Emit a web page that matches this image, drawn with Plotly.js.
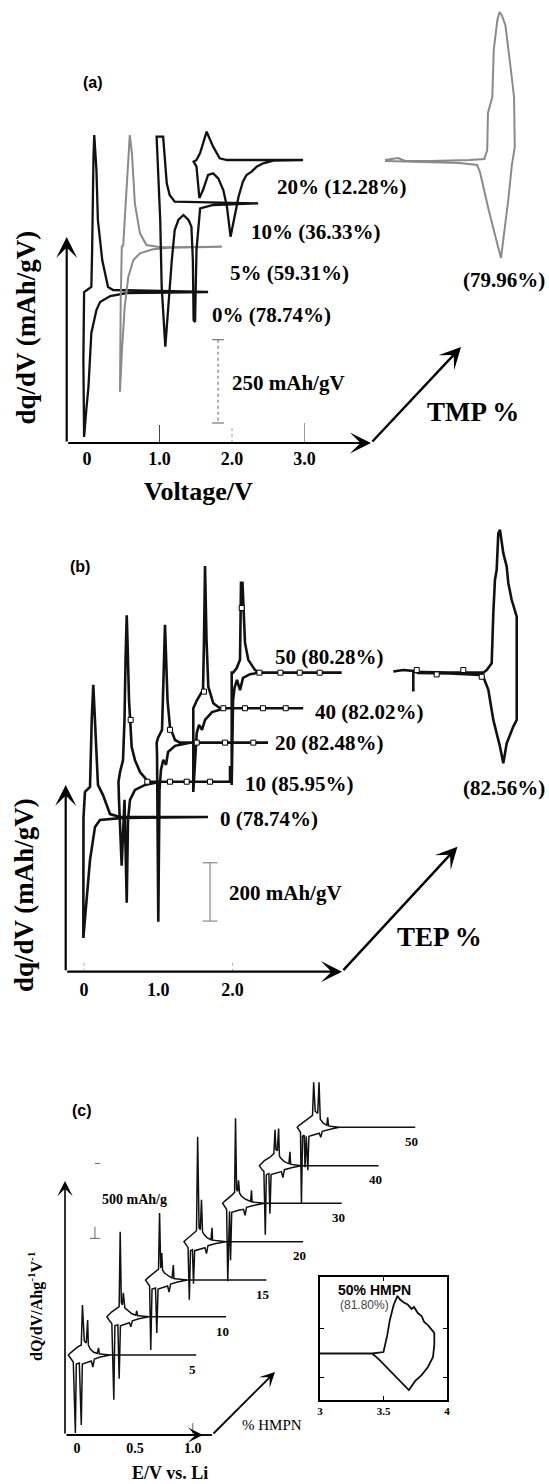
<!DOCTYPE html>
<html><head><meta charset="utf-8">
<script src="https://cdn.plot.ly/plotly-3.0.1.min.js"></script>
<style>html,body{margin:0;padding:0;background:#fff}#chart{width:549px;height:1484px}</style>
</head><body><div id="chart"></div>
<script>
// ================= Panel (a): TMP % (dq/dV in mAh/gV vs Voltage/V) =================
const a_names   = ['0% (78.74%)', '5% (59.31%)', '10% (36.33%)', '20% (12.28%)', '(79.96%)'];
const a_offsets = [0, 136, 266, 396, 396];               // stacking offsets (mAh/gV)
const a0_V  = [1.67,0.36,0.29,0.21,0.15,0.13,0.10,0.09,0.07,0.06,0.00,-0.04,-0.05,-0.04,-0.01,0.02,0.06,0.13,0.18,0.32,0.55,1.67];
const a0_Q  = [0,6,15,96,216,366,471,411,117,15,6,0,-204,-435,-354,-285,-123,-54,-30,-12,-3,0];
const a5_V  = [1.86,1.01,0.82,0.73,0.66,0.62,0.59,0.57,0.52,0.50,0.48,0.465,0.455,0.48,0.52,0.57,0.64,0.73,0.91,1.14,1.86];
const a5_Q  = [0,-2,5,40,130,280,335,250,80,5,0,-160,-435,-319,-180,-90,-40,-20,-8,-3,0];
const a10_V = [2.36,1.21,1.14,1.10,1.05,0.96,1.01,1.03,1.08,1.12,1.17,1.21,1.26,1.33,1.40,1.44,1.46,1.47,1.49,1.51,1.56,1.74,2.36];
const a10_Q = [0,5,25,60,200,200,-50,-250,-430,-310,-170,-80,-50,-35,-50,-70,-170,-350,-356,-140,-15,-5,0];
const a20_V = [2.98,1.93,1.83,1.74,1.65,1.56,1.51,1.47,1.51,1.55,1.60,1.67,1.74,1.81,1.88,1.93,1.98,2.03,2.09,2.15,2.20,2.27,2.34,2.43,2.57,2.98];
const a20_Q = [0,0,5,40,85,21,0,-5,-20,-114,-90,-45,-40,-55,-90,-140,-230,-180,-110,-65,-45,-35,-20,-10,-2,0];
const aR_V  = [4.11,4.29,4.39,4.73,5.28,5.48,5.52,5.53,5.59,5.61,5.66,5.69,5.72,5.77,5.83,5.89,5.90,5.86,5.81,5.74,5.71,5.67,5.54,5.42,5.38,5.14,4.73,4.11];
const aR_Q  = [0,6,-3,-3,0,3,30,141,189,330,420,444,435,405,300,189,39,-15,-120,-255,-294,-261,-150,-36,-15,-9,-6,-3];
const a_ticks = [0, 1, 2, 3];
const a_tickText = ['0', '1.0', '2.0', '3.0'];
const a_scaleBar = 250;   // mAh/gV

// ================= Panel (b): TEP % =================
const b_names   = ['0 (78.74%)', '10 (85.95%)', '20 (82.48%)', '40 (82.02%)', '50 (80.28%)', '(82.56%)'];
const b_offsets = [0, 121, 255, 373, 495, 501];
const b0_V  = [1.669,0.485,0.350,0.256,0.188,0.171,0.148,0.125,0.104,0.087,0.081,0.013,-0.007,-0.009,0.013,0.036,0.081,0.148,0.215,0.525,1.669];
const b0_Q  = [0,0,10,75,110,196,333,453,333,196,103,86,-3,-415,-353,-261,-147,-34,-10,-3,0];
const b10_V = [1.965,1.965,0.888,0.844,0.754,0.686,0.642,0.606,0.585,0.575,0.559,0.545,0.525,0.485,0.464,0.471,0.507,0.525,0.545,0.575,0.592,0.619,0.686,0.821,1.023,1.965];
const b10_Q = [54,0,0,6,33,74,119,280,486,571,417,212,74,33,0,-62,-288,-165,-62,-415,-132,-62,-28,-11,0,0];
const b20_V = [2.476,1.292,1.225,1.157,1.124,1.104,1.090,1.077,1.063,1.050,0.996,0.978,0.983,1.000,1.016,1.036,1.067,1.104,1.131,1.225,1.427,2.476];
const b20_Q = [0,0,9,54,146,284,404,284,112,44,16,0,-42,-614,-162,-93,-59,-76,-32,-11,0,0];
const b40_V = [2.950,1.830,1.740,1.673,1.649,1.629,1.615,1.602,1.521,1.480,1.471,1.471,1.494,1.517,1.548,1.588,1.629,1.723,1.898,2.950];
const b40_Q = [0,0,17,74,234,488,234,63,28,5,0,-287,-177,-85,-57,-74,-40,-13,0,0];
const b50_V = [3.468,2.369,2.301,2.211,2.167,2.147,2.133,2.113,2.107,2.100,2.056,2.006,1.988,1.988,2.006,2.026,2.059,2.100,2.140,2.234,2.369,3.468];
const b50_Q = [0,0,9,44,102,215,308,308,181,44,16,0,0,-385,-94,-52,-25,-60,-18,-5,0,0];
const bR_V  = [4.163,4.297,4.432,4.432,4.432,4.926,5.374,5.420,5.487,5.509,5.531,5.554,5.576,5.599,5.643,5.689,5.711,5.756,5.824,5.824,5.824,5.778,5.689,5.643,5.599,5.509,5.442,5.374,5.330,4.926,4.478];
const bR_Q  = [-2,3,0,-71,-3,-6,-6,3,26,198,312,346,472,484,404,358,301,244,186,-31,-168,-191,-248,-317,-260,-168,-65,-20,-14,-9,-7];
// open-square data markers (V, Q relative to own baseline)
const b10_mV = [0.628,0.852,1.157,1.382,1.696], b10_mQ = [212,0,0,0,0];
const b20_mV = [1.157,1.517,1.898,2.279],       b20_mQ = [44,0,0,0];
const b40_mV = [1.615,1.875,2.167,2.409,2.715], b40_mQ = [57,0,0,0,0];
const b50_mV = [2.122,2.361,2.643,2.903,3.172], b50_mQ = [222,0,0,0,0];
const bR_mV  = [4.478,4.747,5.105,5.353],       bR_mQ  = [3,-12,3,-20];
const b_ticks = [0, 1, 2];
const b_tickText = ['0', '1.0', '2.0'];
const b_scaleBar = 200;   // mAh/gV

// ================= Panel (c): % HMPN =================
const c_names  = ['5', '10', '15', '20', '30', '40', '50'];
const c_shiftV = [0, 0.333, 0.667, 0.999, 1.332, 1.650, 1.977];
const c_shiftQ = [0, 255, 500, 756, 1012, 1263, 1519];
const c5_V  = [1.030,0.288,0.201,0.193,0.186,0.175,0.141,0.115,0.098,0.092,0.080,0.063,0.047,0.037,0.003,-0.032,-0.058,-0.075,-0.058,-0.032,-0.014,-0.006,0.020,0.037,0.046,0.089,0.124,0.137,0.150,0.201,0.288,1.030];
const c5_Q  = [0,0,7,7,47,10,20,40,67,233,80,93,333,67,53,33,13,0,-20,-47,-520,-60,-53,-467,-60,-47,-40,-80,-27,-13,0,0];
const c10_V = [0.954,0.288,0.201,0.191,0.182,0.175,0.141,0.106,0.080,0.067,0.059,0.050,0.040,0.031,0.003,-0.032,-0.058,-0.075,-0.058,-0.032,-0.015,-0.006,0.020,0.031,0.042,0.089,0.119,0.132,0.145,0.201,0.288,0.954];
const c10_Q = [0,0,7,7,40,10,20,40,60,160,80,93,567,67,53,33,13,0,-20,-47,-553,-60,-53,-413,-60,-47,-40,-67,-27,-13,0,0];
const c15_V = [0.969,0.288,0.201,0.193,0.170,0.165,0.154,0.124,0.089,0.072,0.065,0.056,0.046,0.037,0.003,-0.032,-0.058,-0.075,-0.058,-0.040,-0.030,-0.019,0.011,0.022,0.033,0.080,0.115,0.128,0.141,0.201,0.288,0.969];
const c15_Q = [0,0,7,7,10,100,13,27,47,67,180,80,447,73,53,33,13,0,-20,-40,-467,-60,-53,-353,-60,-47,-40,-80,-27,-13,0,0];
const c20_V = [0.954,0.288,0.201,0.193,0.172,0.167,0.158,0.124,0.098,0.085,0.076,0.066,0.055,0.043,0.033,0.003,-0.032,-0.058,-0.075,-0.058,-0.040,-0.029,-0.019,-0.002,0.007,0.017,0.072,0.106,0.119,0.132,0.201,0.288,0.954];
const c20_Q = [0,0,7,7,10,93,13,27,47,67,280,80,93,700,73,53,33,13,0,-20,-40,-387,-60,-53,-280,-60,-47,-40,-80,-27,-13,0,0];
const c30_V = [0.954,0.288,0.201,0.193,0.180,0.175,0.167,0.124,0.089,0.072,0.063,0.055,0.046,0.037,0.029,0.003,-0.032,-0.058,-0.075,-0.058,-0.040,-0.030,-0.021,-0.015,-0.006,0.004,0.063,0.106,0.119,0.132,0.201,0.288,0.954];
const c30_Q = [0,0,7,7,10,87,13,27,47,67,153,80,93,567,73,53,33,13,0,-20,-40,-520,-60,-53,-380,-60,-47,-40,-80,-27,-13,0,0];
const c40_V = [0.954,0.288,0.210,0.195,0.189,0.180,0.141,0.106,0.098,0.091,0.080,0.068,0.060,0.050,0.011,-0.032,-0.058,-0.075,-0.058,-0.036,-0.024,-0.015,0.007,0.016,0.026,0.080,0.115,0.128,0.141,0.210,0.288,0.954];
const c40_Q = [0,0,7,10,93,13,27,53,67,247,100,107,240,80,53,33,13,0,-20,-40,-460,-60,-53,-320,-60,-47,-40,-80,-27,-13,0,0];
const c50_V = [0.944,0.288,0.210,0.195,0.188,0.180,0.150,0.124,0.113,0.102,0.080,0.067,0.057,0.011,-0.032,-0.058,-0.075,-0.058,-0.047,-0.039,-0.029,-0.015,-0.008,0.003,0.016,0.026,0.080,0.115,0.128,0.141,0.210,0.288,0.944];
const c50_Q = [0,0,7,10,67,13,27,53,300,93,107,300,80,53,33,13,0,-20,-33,-507,-60,-53,-267,-60,-287,-60,-47,-40,-67,-27,-13,0,0];
const c_ticks = [0, 0.5, 1];
const c_tickText = ['0', '0.5', '1.0'];
const c_scaleBar = 500;   // mAh/g

// inset: 50% HMPN (81.80%)
const ins_V = [3.0,3.41,3.50,3.53,3.55,3.58,3.61,3.63,3.66,3.69,3.72,3.74,3.77,3.80,3.82,3.85,3.90,3.90,3.89,3.85,3.80,3.75,3.70,3.67,3.63,3.57,3.51,3.46,3.41];
const ins_Q = [0,0,0.06,0.76,1.37,1.98,2.35,2.20,2.08,2.00,1.82,1.90,1.65,1.53,1.29,1.16,0.84,0.35,-0.14,-0.55,-0.88,-1.12,-1.49,-1.33,-1.12,-0.80,-0.51,-0.22,0];
const ins_ticks = [3, 3.5, 4];
const ins_tickText = ['3', '3.5', '4'];

// ================= build =================
const SERIF = 'Liberation Serif, Times New Roman, serif';
const SANS  = 'Liberation Sans, Arial, sans-serif';
const traces = [];
const add = (q, d) => q.map(v => v + d);
function ln(x, y, xa, ya, color, width, dash) {
  traces.push({type:'scatter', mode:'lines', x:x, y:y, xaxis:xa, yaxis:ya,
    line:{color:color, width:width, dash:dash || 'solid'}, hoverinfo:'skip', showlegend:false});
}
function mk(x, y, xa, ya) {
  traces.push({type:'scatter', mode:'markers', x:x, y:y, xaxis:xa, yaxis:ya,
    marker:{symbol:'square', size:5, color:'#fff', line:{color:'#000', width:1}}, hoverinfo:'skip', showlegend:false});
}

// panel a curves
ln(a0_V,  add(a0_Q,  a_offsets[0]), 'x','y', '#111', 2.3);
ln(a5_V,  add(a5_Q,  a_offsets[1]), 'x','y', '#8a8a8a', 2.0);
ln(a10_V, add(a10_Q, a_offsets[2]), 'x','y', '#111', 2.3);
ln(a20_V, add(a20_Q, a_offsets[3]), 'x','y', '#111', 2.3);
ln(aR_V,  add(aR_Q,  a_offsets[4]), 'x','y', '#8a8a8a', 2.0);
// a ticks and scale bar
ln([1,1], [-453,-399], 'x','y', '#444', 1);
ln([2,2], [-453,-399], 'x','y', '#999', 1, 'dot');
ln([3,3], [-453,-393], 'x','y', '#999', 1);
ln([1.807,1.807], [-143,-143-a_scaleBar], 'x','y', '#777', 1.2, 'dot');
ln([1.724,1.890], [-143,-143], 'x','y', '#777', 1.2);
ln([1.724,1.890], [-143-a_scaleBar,-143-a_scaleBar], 'x','y', '#777', 1.2);

// panel b curves
ln(b0_V,  add(b0_Q,  b_offsets[0]), 'x2','y2', '#111', 2.6);
ln(b10_V, add(b10_Q, b_offsets[1]), 'x2','y2', '#111', 2.6);
ln(b20_V, add(b20_Q, b_offsets[2]), 'x2','y2', '#111', 2.6);
ln(b40_V, add(b40_Q, b_offsets[3]), 'x2','y2', '#111', 2.6);
ln(b50_V, add(b50_Q, b_offsets[4]), 'x2','y2', '#111', 2.6);
ln(bR_V,  add(bR_Q,  b_offsets[5]), 'x2','y2', '#111', 2.6);
mk(b10_mV, add(b10_mQ, b_offsets[1]), 'x2','y2');
mk(b20_mV, add(b20_mQ, b_offsets[2]), 'x2','y2');
mk(b40_mV, add(b40_mQ, b_offsets[3]), 'x2','y2');
mk(b50_mV, add(b50_mQ, b_offsets[4]), 'x2','y2');
mk(bR_mV,  add(bR_mQ,  b_offsets[5]), 'x2','y2');
ln([0,0], [-531,-490], 'x2','y2', '#aaa', 1, 'dot');
ln([2,2], [-531,-490], 'x2','y2', '#aaa', 1, 'dot');
ln([1.696,1.696], [-157,-157-b_scaleBar], 'x2','y2', '#888', 1.2);
ln([1.596,1.796], [-157,-157], 'x2','y2', '#888', 1.2);
ln([1.596,1.796], [-157-b_scaleBar,-157-b_scaleBar], 'x2','y2', '#888', 1.2);

// panel c curves
const cV = [c5_V, c10_V, c15_V, c20_V, c30_V, c40_V, c50_V];
const cQ = [c5_Q, c10_Q, c15_Q, c20_Q, c30_Q, c40_Q, c50_Q];
for (let i = 0; i < cV.length; i++) {
  ln(add(cV[i], c_shiftV[i]), add(cQ[i], c_shiftQ[i]), 'x3','y3', '#111', 1.5);
}
ln([1.0,1.0], [-527,-454], 'x3','y3', '#666', 1);
ln([1.06,1.1658], [-533.6,-533.6], 'x3','y3', '#111', 2);
ln([0.155,0.199], [778+c_scaleBar,778+c_scaleBar], 'x3','y3', '#666', 1);
ln([0.112,0.199], [778,778], 'x3','y3', '#666', 1);
ln([0.155,0.155], [778,855], 'x3','y3', '#666', 1);

// inset
ln(ins_V, ins_Q, 'x4','y4', '#111', 1.8);

// ---------------- annotations ----------------
const ann = [];
function tx(x, y, xr, yr, text, size, o) {
  ann.push(Object.assign({x:x, y:y, xref:xr, yref:yr, text:text, showarrow:false,
    font:{family:SERIF, size:size, color:'#000'}, xanchor:'left', yanchor:'middle'}, o || {}));
}
function arrow(x0, y0, x1, y1, xr, yr, w, s) {
  ann.push({x:x1, y:y1, ax:x0, ay:y0, xref:xr, yref:yr, axref:xr, ayref:yr, text:'',
    showarrow:true, arrowhead:3, arrowsize:s, arrowwidth:w, arrowcolor:'#000', standoff:0, startstandoff:0});
}
// a
arrow(-0.28,-453, -0.28,165, 'x','y', 2.2, 1.6);
arrow(-0.28,-453, 3.917,-453, 'x','y', 2.2, 1.6);
arrow(3.917,-453, 5.159,-165, 'x','y', 2.4, 1.5);
tx(2.593,315,'x','y','<b>'+a_names[3]+'</b>',21);
tx(2.234,180,'x','y','<b>'+a_names[2]+'</b>',21);
tx(1.945,57,'x','y','<b>'+a_names[1]+'</b>',21);
tx(1.697,-69,'x','y','<b>'+a_names[0]+'</b>',21);
tx(5.752,36,'x','y','<b>'+a_names[4]+'</b>',21,{xanchor:'center'});
tx(1.972,-273,'x','y','<b>'+a_scaleBar+' mAh/gV</b>',21);
tx(5.324,-360,'x','y','<b>TMP %</b>',27,{xanchor:'center'});
tx(1.531,-600,'x','y','<b>Voltage/V</b>',26,{xanchor:'center'});
tx(-0.848,-108,'x','y','<b>dq/dV (mAh/gV)</b>',27,{xanchor:'center', textangle:-90});
tx(0.083,630,'x','y','<b>(a)</b>',16,{xanchor:'center', font:{family:SANS, size:16, color:'#000'}});
// b
arrow(-0.2463,-530.6, -0.2463,110, 'x2','y2', 2.2, 1.6);
arrow(-0.2463,-530.6, 3.472,-530.6, 'x2','y2', 2.2, 1.6);
arrow(3.472,-530.6, 5.026,-102, 'x2','y2', 2.4, 1.5);
tx(2.544,549,'x2','y2','<b>'+b_names[4]+'</b>',21);
tx(3.082,360,'x2','y2','<b>'+b_names[3]+'</b>',21);
tx(2.544,254,'x2','y2','<b>'+b_names[2]+'</b>',21);
tx(2.140,113,'x2','y2','<b>'+b_names[1]+'</b>',21);
tx(1.803,-7,'x2','y2','<b>'+b_names[0]+'</b>',21);
tx(5.646,99,'x2','y2','<b>'+b_names[5]+'</b>',21,{xanchor:'center'});
tx(1.925,-261,'x2','y2','<b>'+b_scaleBar+' mAh/gV</b>',21);
tx(4.791,-412,'x2','y2','<b>TEP %</b>',27,{xanchor:'center'});
tx(1.373,-703,'x2','y2','<b>Voltage/V</b>',26,{xanchor:'center'});
tx(-0.808,-268,'x2','y2','<b>dq/dV (mAh/gV)</b>',27,{xanchor:'center', textangle:-90});
tx(-0.054,858,'x2','y2','<b>(b)</b>',16,{xanchor:'center', font:{family:SANS, size:16, color:'#000'}});
// c
arrow(-0.1036,-533.6, -0.1036,1160.6, 'x3','y3', 1.6, 1.6);
arrow(-0.1036,-533.6, 1.088,-533.6, 'x3','y3', 1.8, 1.4);
arrow(1.1658,-533.6, 1.7098,-113.4, 'x3','y3', 1.8, 1.4);
for (let i = 0; i < c_names.length; i++) {
  const e = cV[i][0] + c_shiftV[i];
  tx(e - 0.03, c_shiftQ[i] - 95, 'x3','y3', '<b>'+c_names[i]+'</b>', 13, {xanchor:'center'});
}
tx(0.199,1034,'x3','y3','<b>'+c_scaleBar+' mAh/g</b>',14);
tx(1.688,-467,'x3','y3','% HMPN',15,{xanchor:'center'});
tx(0.803,-787,'x3','y3','<b>E/V vs. Li</b>',18,{xanchor:'center'});
tx(-0.354,327,'x3','y3','<b>dQ/dV/Ahg<sup>-1</sup>V<sup>-1</sup></b>',16,{xanchor:'center', textangle:-90});
tx(0.047,1634,'x3','y3','<b>(c)</b>',16,{xanchor:'center', font:{family:SANS, size:16, color:'#000'}});
// inset
tx(3.433,2.59,'x4','y4','<b>50% HMPN</b>',14,{xanchor:'center', font:{family:SANS, size:14, color:'#000'}});
tx(3.354,1.98,'x4','y4','(81.80%)',12,{xanchor:'center', font:{family:SANS, size:12, color:'#444'}});
tx(2.921,0.63,'x4','y4','<b>dQ/dV/Ahg<sup>-1</sup>V<sup>-1</sup></b>',13,{xanchor:'center', textangle:-90});
tx(3.606,-3.04,'x4','y4','<b>E/V vs. Li</b>',15,{xanchor:'center'});

const tickFont = s => ({family:SERIF, size:s, color:'#000'});
const bold = arr => arr.map(t => '<b>' + t + '</b>');
const hidden = {visible:false, fixedrange:true};
const layout = {
  width:549, height:1484, margin:{l:0, r:0, t:0, b:0},
  paper_bgcolor:'#fff', plot_bgcolor:'rgba(0,0,0,0)', showlegend:false,
  xaxis:{domain:[0,1], range:[-1.2,6.372], anchor:'free', position:0.70148, showline:false, showgrid:false,
    zeroline:false, ticks:'', tickmode:'array', tickvals:a_ticks, ticktext:bold(a_tickText), tickfont:tickFont(18), ticklabelstandoff:3},
  yaxis:Object.assign({domain:[0.64960,1], range:[-684,876]}, hidden),
  xaxis2:{domain:[0,1], range:[-1.1306,6.2584], anchor:'free', position:0.34501, showline:false, showgrid:false,
    zeroline:false, ticks:'', tickmode:'array', tickvals:b_ticks, ticktext:bold(b_tickText), tickfont:tickFont(18), ticklabelstandoff:5},
  yaxis2:Object.assign({domain:[0.31941,0.64960], range:[-662.0,1018.7]}, hidden),
  xaxis3:{domain:[0,1], range:[-0.6649,4.0760], anchor:'free', position:0.03302, showline:false, showgrid:false,
    zeroline:false, ticks:'', tickmode:'array', tickvals:c_ticks, ticktext:bold(c_tickText), tickfont:tickFont(14), ticklabelstandoff:3},
  yaxis3:Object.assign({domain:[0,0.31941], range:[-860.4,2301.2]}, hidden),
  xaxis4:{domain:[0.58288,0.81421], anchor:'y4', range:[3,4], showline:true, mirror:'ticks', linecolor:'#000', linewidth:1.8,
    showgrid:false, zeroline:false, ticks:'inside', ticklen:4, tickcolor:'#000', tickmode:'array', tickvals:ins_ticks,
    ticktext:bold(ins_tickText), tickfont:tickFont(11)},
  yaxis4:{domain:[0.05660,0.13949], anchor:'x4', range:[-1.898,3.122], showline:true, mirror:'ticks', linecolor:'#000', linewidth:1.8,
    showgrid:false, zeroline:false, ticks:'inside', ticklen:4, tickcolor:'#000', tickmode:'array', tickvals:[-1,1], showticklabels:false},
  annotations:ann
};
Plotly.newPlot('chart', traces, layout, {staticPlot:true, displayModeBar:false});
</script>
</body></html>
